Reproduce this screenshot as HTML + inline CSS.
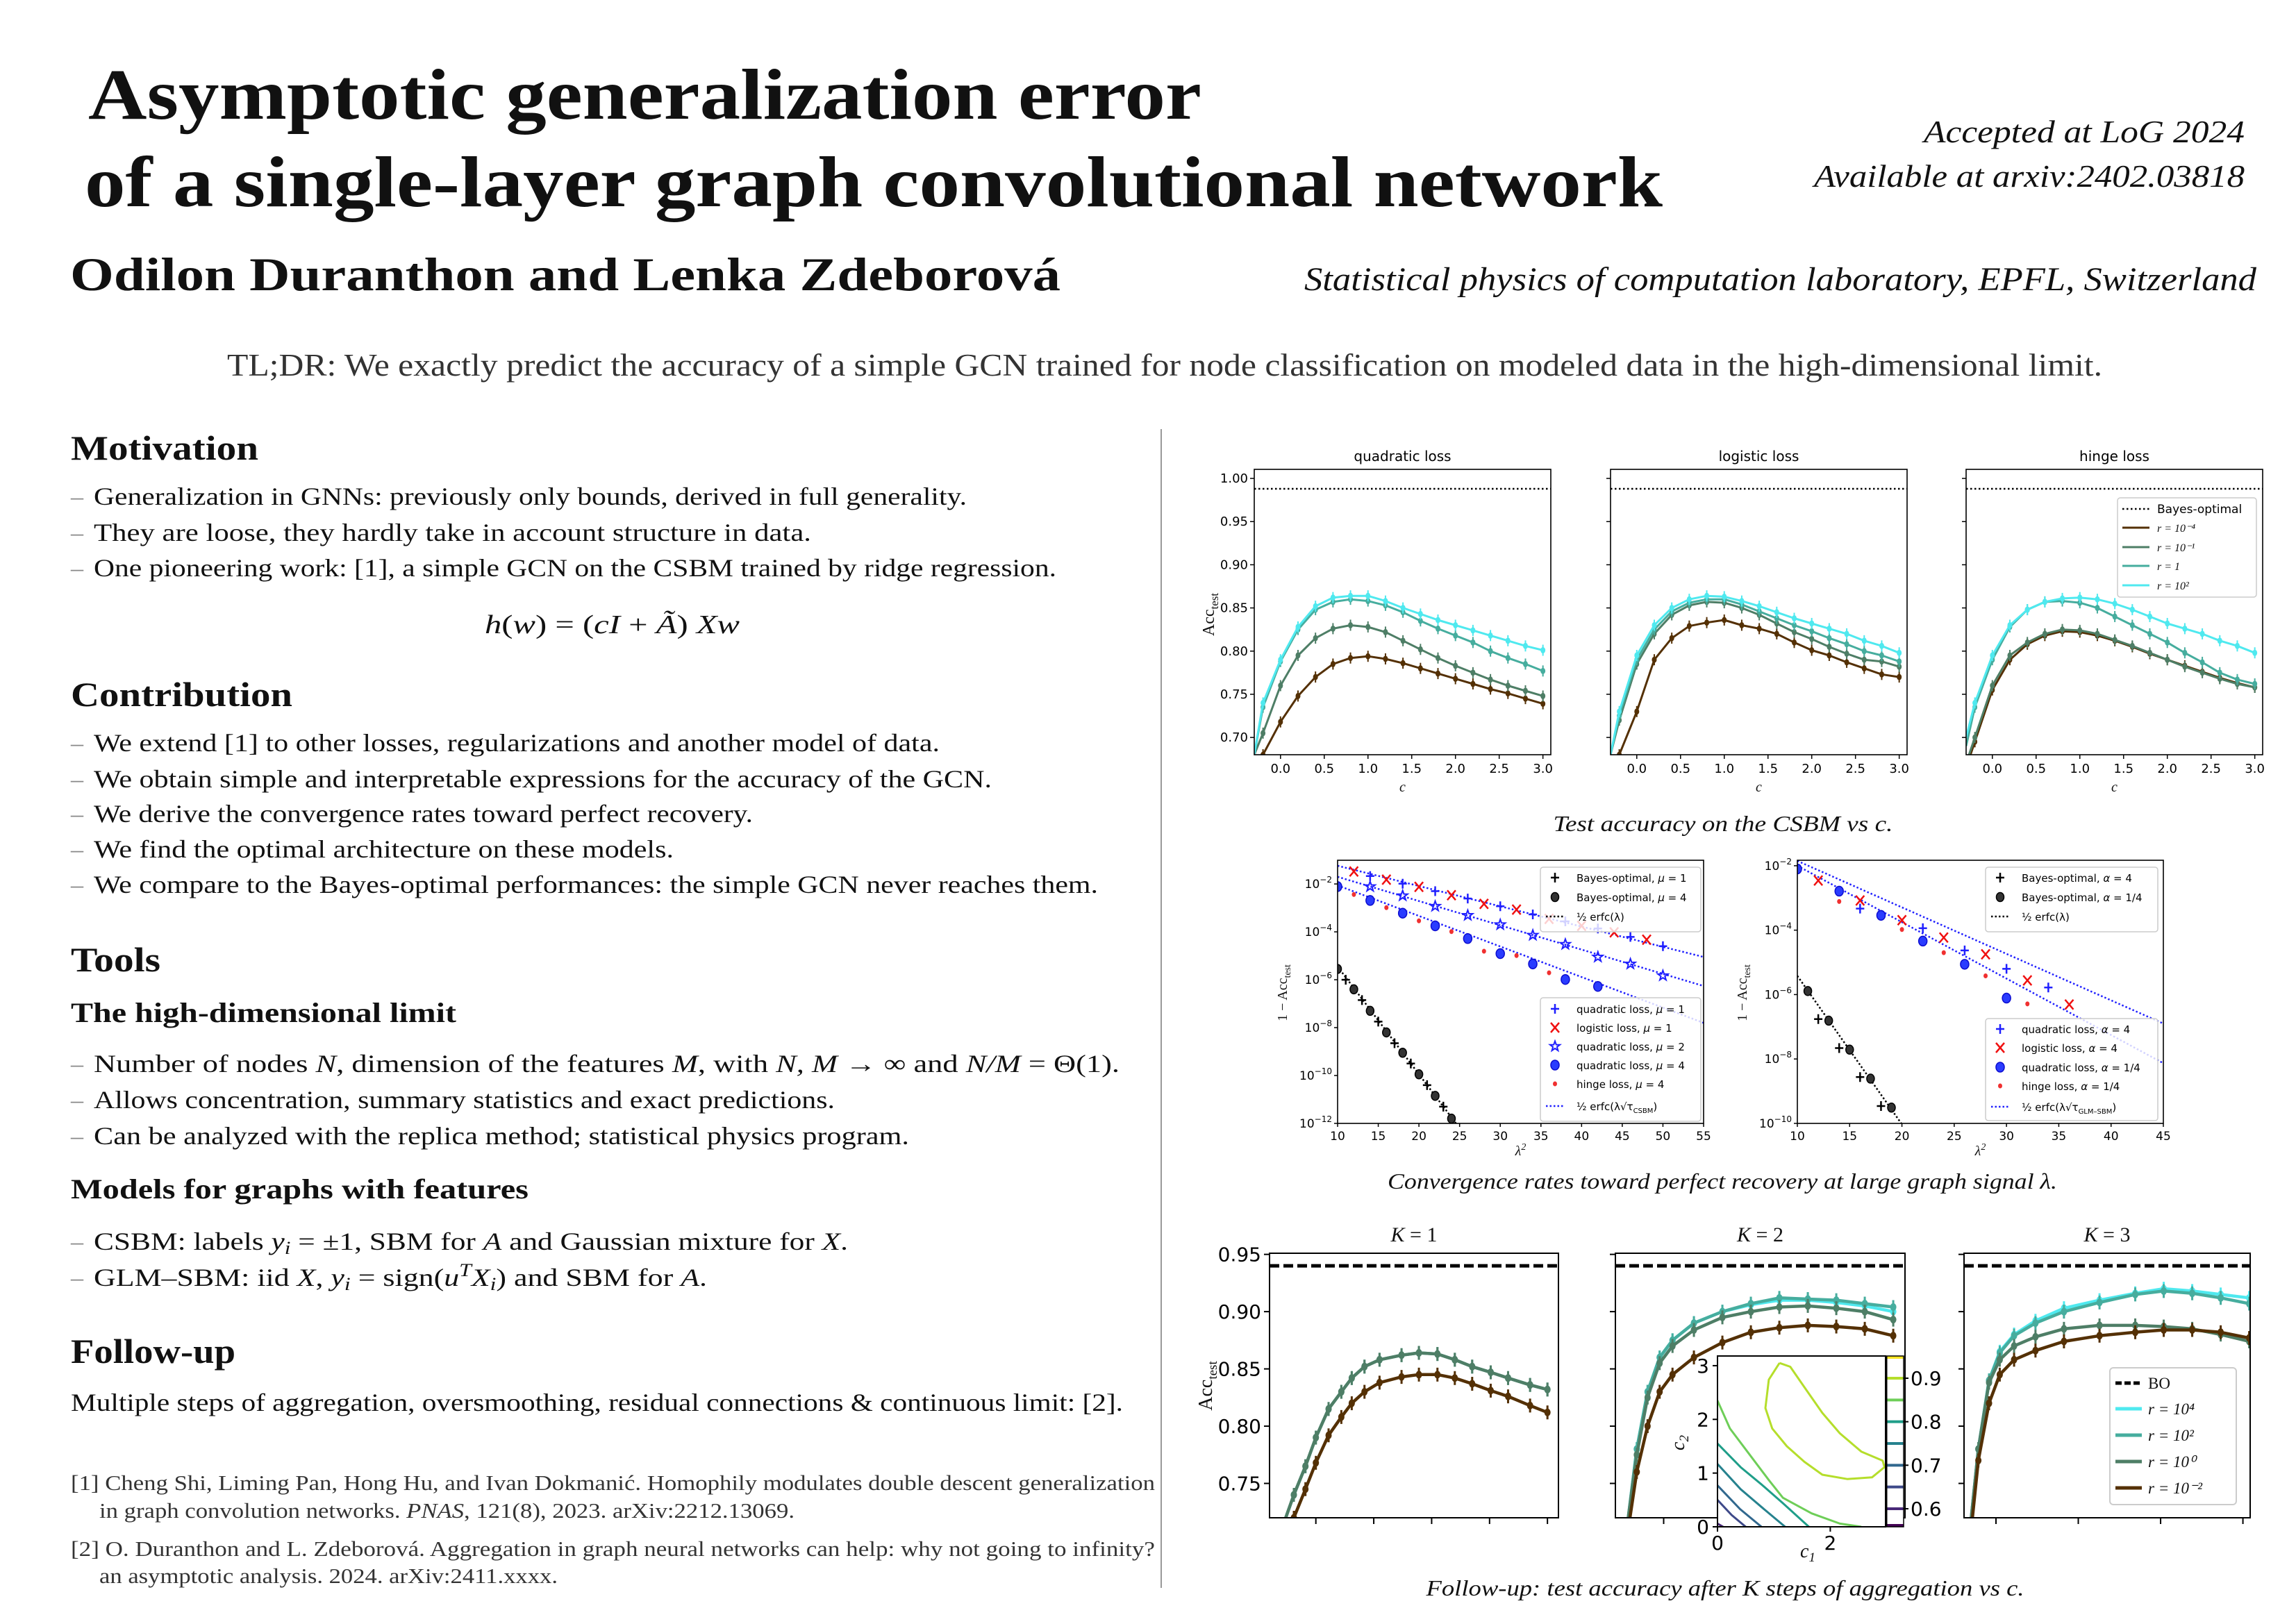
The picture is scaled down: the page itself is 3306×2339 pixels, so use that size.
<!DOCTYPE html>
<html><head><meta charset="utf-8"><title>Asymptotic generalization error of a single-layer GCN</title>
<style>
html,body{margin:0;padding:0;background:#fff;}
svg{display:block;}
.t{font-family:"Liberation Serif",serif;fill:#111;}
.s{font-family:"DejaVu Sans","Liberation Sans",sans-serif;fill:#000;}
</style></head>
<body>
<svg id="poster" xmlns="http://www.w3.org/2000/svg" width="3306" height="2339" viewBox="0 0 3306 2339">
<rect x="0" y="0" width="3306" height="2339" fill="#fff"/>
<g>
<text class="t" x="127" y="171" font-size="104" font-weight="bold" textLength="1603" lengthAdjust="spacingAndGlyphs">Asymptotic generalization error</text>
<text class="t" x="122" y="297" font-size="104" font-weight="bold" textLength="2272" lengthAdjust="spacingAndGlyphs">of a single-layer graph convolutional network</text>
<text class="t" x="2770" y="205" font-size="46" font-style="italic" textLength="462" lengthAdjust="spacingAndGlyphs">Accepted at LoG 2024</text>
<text class="t" x="2612" y="269" font-size="46" font-style="italic" textLength="620" lengthAdjust="spacingAndGlyphs">Available at arxiv:2402.03818</text>
<text class="t" x="101" y="418" font-size="68" font-weight="bold" textLength="1426" lengthAdjust="spacingAndGlyphs">Odilon Duranthon and Lenka Zdeborová</text>
<text class="t" x="1878" y="418" font-size="48" font-style="italic" textLength="1371" lengthAdjust="spacingAndGlyphs">Statistical physics of computation laboratory, EPFL, Switzerland</text>
<text class="t" x="327" y="541" font-size="45" textLength="2700" lengthAdjust="spacingAndGlyphs" style="fill:#333">TL;DR: We exactly predict the accuracy of a simple GCN trained for node classification on modeled data in the high-dimensional limit.</text>
</g>
<line x1="1672" y1="618" x2="1672" y2="2287" stroke="#999" stroke-width="2"/>
<g>
<text class="t" x="102" y="662" font-size="50" font-weight="bold" textLength="270" lengthAdjust="spacingAndGlyphs">Motivation</text>
<text class="t" x="102" y="727" font-size="36" style="fill:#888">–</text>
<text class="t" x="135" y="727" font-size="36" textLength="1257" lengthAdjust="spacingAndGlyphs">Generalization in GNNs: previously only bounds, derived in full generality.</text>
<text class="t" x="102" y="779" font-size="36" style="fill:#888">–</text>
<text class="t" x="135" y="779" font-size="36" textLength="1033" lengthAdjust="spacingAndGlyphs">They are loose, they hardly take in account structure in data.</text>
<text class="t" x="102" y="830" font-size="36" style="fill:#888">–</text>
<text class="t" x="135" y="830" font-size="36" textLength="1386" lengthAdjust="spacingAndGlyphs">One pioneering work: [1], a simple GCN on the CSBM trained by ridge regression.</text>
<text class="t" x="698" y="912" font-size="38" textLength="367" lengthAdjust="spacingAndGlyphs"><tspan font-style="italic">h</tspan>(<tspan font-style="italic">w</tspan>) = (<tspan font-style="italic">cI</tspan> + <tspan font-style="italic">Ã</tspan>) <tspan font-style="italic">Xw</tspan></text>

<text class="t" x="102" y="1017" font-size="50" font-weight="bold" textLength="319" lengthAdjust="spacingAndGlyphs">Contribution</text>
<text class="t" x="102" y="1082" font-size="36" style="fill:#888">–</text>
<text class="t" x="135" y="1082" font-size="36" textLength="1218" lengthAdjust="spacingAndGlyphs">We extend [1] to other losses, regularizations and another model of data.</text>
<text class="t" x="102" y="1134" font-size="36" style="fill:#888">–</text>
<text class="t" x="135" y="1134" font-size="36" textLength="1293" lengthAdjust="spacingAndGlyphs">We obtain simple and interpretable expressions for the accuracy of the GCN.</text>
<text class="t" x="102" y="1184" font-size="36" style="fill:#888">–</text>
<text class="t" x="135" y="1184" font-size="36" textLength="949" lengthAdjust="spacingAndGlyphs">We derive the convergence rates toward perfect recovery.</text>
<text class="t" x="102" y="1235" font-size="36" style="fill:#888">–</text>
<text class="t" x="135" y="1235" font-size="36" textLength="835" lengthAdjust="spacingAndGlyphs">We find the optimal architecture on these models.</text>
<text class="t" x="102" y="1286" font-size="36" style="fill:#888">–</text>
<text class="t" x="135" y="1286" font-size="36" textLength="1446" lengthAdjust="spacingAndGlyphs">We compare to the Bayes-optimal performances: the simple GCN never reaches them.</text>

<text class="t" x="102" y="1399" font-size="50" font-weight="bold" textLength="129" lengthAdjust="spacingAndGlyphs">Tools</text>
<text class="t" x="102" y="1472" font-size="40" font-weight="bold" textLength="555" lengthAdjust="spacingAndGlyphs">The high-dimensional limit</text>
<text class="t" x="102" y="1544" font-size="36" style="fill:#888">–</text>
<text class="t" x="135" y="1544" font-size="36" textLength="1477" lengthAdjust="spacingAndGlyphs">Number of nodes <tspan font-style="italic">N</tspan>, dimension of the features <tspan font-style="italic">M</tspan>, with <tspan font-style="italic">N, M</tspan> → ∞ and <tspan font-style="italic">N/M</tspan> = Θ(1).</text>
<text class="t" x="102" y="1596" font-size="36" style="fill:#888">–</text>
<text class="t" x="135" y="1596" font-size="36" textLength="1067" lengthAdjust="spacingAndGlyphs">Allows concentration, summary statistics and exact predictions.</text>
<text class="t" x="102" y="1648" font-size="36" style="fill:#888">–</text>
<text class="t" x="135" y="1648" font-size="36" textLength="1174" lengthAdjust="spacingAndGlyphs">Can be analyzed with the replica method; statistical physics program.</text>
<text class="t" x="102" y="1726" font-size="40" font-weight="bold" textLength="659" lengthAdjust="spacingAndGlyphs">Models for graphs with features</text>
<text class="t" x="102" y="1800" font-size="36" style="fill:#888">–</text>
<text class="t" x="135" y="1800" font-size="36" textLength="1086" lengthAdjust="spacingAndGlyphs">CSBM: labels <tspan font-style="italic">y<tspan font-size="26" dy="6">i</tspan></tspan><tspan dy="-6"> = ±1, SBM for </tspan><tspan font-style="italic">A</tspan> and Gaussian mixture for <tspan font-style="italic">X</tspan>.</text>
<text class="t" x="102" y="1852" font-size="36" style="fill:#888">–</text>
<text class="t" x="135" y="1852" font-size="36" textLength="883" lengthAdjust="spacingAndGlyphs">GLM–SBM: iid <tspan font-style="italic">X</tspan>, <tspan font-style="italic">y<tspan font-size="26" dy="6">i</tspan></tspan><tspan dy="-6"> = sign(</tspan><tspan font-style="italic">u<tspan font-size="26" dy="-14">T</tspan></tspan><tspan font-style="italic" dy="14">X<tspan font-size="26" dy="6">i</tspan></tspan><tspan dy="-6">) and SBM for </tspan><tspan font-style="italic">A</tspan>.</text>

<text class="t" x="102" y="1963" font-size="50" font-weight="bold" textLength="237" lengthAdjust="spacingAndGlyphs">Follow-up</text>
<text class="t" x="102" y="2032" font-size="36" textLength="1515" lengthAdjust="spacingAndGlyphs">Multiple steps of aggregation, oversmoothing, residual connections &amp; continuous limit: [2].</text>

<text class="t" x="102" y="2146" font-size="31" textLength="1561" lengthAdjust="spacingAndGlyphs" style="fill:#333">[1] Cheng Shi, Liming Pan, Hong Hu, and Ivan Dokmanić. Homophily modulates double descent generalization</text>
<text class="t" x="143" y="2186" font-size="31" textLength="1001" lengthAdjust="spacingAndGlyphs" style="fill:#333">in graph convolution networks. <tspan font-style="italic">PNAS</tspan>, 121(8), 2023. arXiv:2212.13069.</text>
<text class="t" x="102" y="2241" font-size="31" textLength="1561" lengthAdjust="spacingAndGlyphs" style="fill:#333">[2] O. Duranthon and L. Zdeborová. Aggregation in graph neural networks can help: why not going to infinity?</text>
<text class="t" x="143" y="2280" font-size="31" textLength="660" lengthAdjust="spacingAndGlyphs" style="fill:#333">an asymptotic analysis. 2024. arXiv:2411.xxxx.</text>
</g>

<g>
<text class="t" x="2481" y="1197" font-size="32" font-style="italic" text-anchor="middle" textLength="489" lengthAdjust="spacingAndGlyphs">Test accuracy on the CSBM vs c.</text>
<text class="t" x="2480" y="1712" font-size="32" font-style="italic" text-anchor="middle" textLength="964" lengthAdjust="spacingAndGlyphs">Convergence rates toward perfect recovery at large graph signal λ.</text>
<text class="t" x="2484" y="2298" font-size="32" font-style="italic" text-anchor="middle" textLength="861" lengthAdjust="spacingAndGlyphs">Follow-up: test accuracy after K steps of aggregation vs c.</text>
</g>
<g id="charts"></g>
</svg>
<script>
// ---------- DATA: top row (accuracy vs c on CSBM) ----------
const cTop = [-0.3,-0.2,0,0.2,0.4,0.6,0.8,1.0,1.2,1.4,1.6,1.8,2.0,2.2,2.4,2.6,2.8,3.0];
const topTitles = ["quadratic loss","logistic loss","hinge loss"];
const topBayes = [0.988, 0.988, 0.988];
const quadR1e2 = [0.68,0.74,0.79,0.828,0.852,0.862,0.864,0.864,0.858,0.85,0.843,0.836,0.83,0.824,0.818,0.812,0.806,0.801];
const quadR1   = [0.68,0.735,0.788,0.825,0.848,0.857,0.86,0.858,0.853,0.845,0.835,0.826,0.818,0.81,0.80,0.792,0.785,0.777];
const quadR1em1= [0.68,0.705,0.76,0.795,0.815,0.826,0.83,0.828,0.822,0.812,0.802,0.792,0.783,0.775,0.767,0.76,0.754,0.748];
const quadR1em4= [0.665,0.68,0.718,0.748,0.77,0.785,0.792,0.794,0.791,0.786,0.78,0.774,0.768,0.762,0.756,0.751,0.745,0.739];
const logiR1e2 = [0.68,0.73,0.795,0.83,0.85,0.86,0.864,0.863,0.858,0.852,0.845,0.838,0.832,0.826,0.82,0.812,0.806,0.798];
const logiR1   = [0.68,0.725,0.79,0.825,0.846,0.856,0.86,0.86,0.854,0.846,0.838,0.83,0.823,0.815,0.808,0.80,0.795,0.788];
const logiR1em1= [0.68,0.72,0.785,0.82,0.842,0.853,0.857,0.856,0.85,0.842,0.832,0.822,0.814,0.805,0.797,0.79,0.788,0.782];
const logiR1em4= [0.665,0.68,0.73,0.79,0.815,0.829,0.833,0.836,0.83,0.826,0.82,0.81,0.801,0.795,0.787,0.78,0.773,0.77];
const hingR1e2 = [0.70,0.74,0.795,0.83,0.848,0.857,0.861,0.862,0.86,0.855,0.848,0.84,0.832,0.826,0.82,0.812,0.806,0.798];
const hingR1   = [0.69,0.735,0.79,0.828,0.848,0.857,0.858,0.856,0.85,0.84,0.83,0.82,0.81,0.798,0.787,0.775,0.767,0.762];
const hingR1em1= [0.67,0.70,0.76,0.795,0.81,0.82,0.825,0.824,0.82,0.813,0.806,0.798,0.79,0.782,0.775,0.768,0.762,0.758];
const hingR1em4= [0.665,0.695,0.755,0.79,0.808,0.818,0.823,0.822,0.818,0.812,0.805,0.797,0.79,0.783,0.776,0.769,0.763,0.758];
const topYTicks = [0.70,0.75,0.80,0.85,0.90,0.95,1.00];
const topXTicks = [0,0.5,1,1.5,2,2.5,3];
const topLegendLabels = ["Bayes-optimal","r = 10⁻⁴","r = 10⁻¹","r = 1","r = 10²"];

// ---------- DATA: middle row (1 - Acc, log10 values) ----------
const midLX = [10,55], midRX = [10,45];
const midLYTicks = [-2,-4,-6,-8,-10,-12];
const midRYTicks = [-2,-4,-6,-8,-10];
const midLXTicks = [10,15,20,25,30,35,40,45,50,55];
const midRXTicks = [10,15,20,25,30,35,40,45];
const bayesMu4X = [10,12,14,16,18,20,22,24];
const bayesMu4Y = [-5.55,-6.4,-7.3,-8.2,-9.05,-9.95,-10.85,-11.8];
const bayesMu1X = [11,13,15,17,19,21,23];
const bayesMu1Y = [-6.0,-6.85,-7.75,-8.65,-9.5,-10.4,-11.3];
const erfcLX = [10,25];
const erfcLY = [-5.45,-12.2];
const tauLineAX = [10,55], tauLineAY = [-1.24,-5.05];
const tauLineBX = [10,55], tauLineBY = [-1.7,-6.26];
const tauLineCX = [10,55], tauLineCY = [-2.06,-7.8];
const quadMu1X = [14,18,22,26,30,34,38,42,46,50];
const quadMu1Y = [-1.67,-1.99,-2.30,-2.61,-2.93,-3.27,-3.56,-3.86,-4.21,-4.60];
const logiMu1X = [12,16,20,24,28,32,36,40,44,48];
const logiMu1Y = [-1.48,-1.82,-2.12,-2.47,-2.83,-3.07,-3.46,-3.75,-4.02,-4.33];
const quadMu2X = [14,18,22,26,30,34,38,42,46,50];
const quadMu2Y = [-2.11,-2.49,-2.93,-3.31,-3.70,-4.14,-4.52,-5.05,-5.34,-5.83];
const quadMu4X = [10,14,18,22,26,30,34,38,42];
const quadMu4Y = [-2.11,-2.69,-3.22,-3.75,-4.28,-4.91,-5.34,-5.99,-6.28];
const hingMu4X = [12,16,20,24,28,32,36];
const hingMu4Y = [-2.44,-2.99,-3.54,-3.99,-4.81,-4.99,-5.71];
const bayesA14X = [11,13,15,17,19];
const bayesA14Y = [-5.89,-6.81,-7.71,-8.61,-9.51];
const bayesA4X = [12,14,16,18];
const bayesA4Y = [-6.76,-7.66,-8.56,-9.46];
const erfcRX = [10,20], erfcRY = [-5.42,-10.03];
const glmLineAX = [10,45], glmLineAY = [-1.85,-6.9];
const glmLineBX = [10,45], glmLineBY = [-2.0,-8.13];
const quadA4X = [16,22,26,30,34];
const quadA4Y = [-3.33,-3.94,-4.63,-5.2,-5.78];
const logiA4X = [12,16,20,24,28,32,36];
const logiA4Y = [-2.46,-3.08,-3.69,-4.23,-4.75,-5.56,-6.31];
const quadA14X = [10,14,18,22,26,30];
const quadA14Y = [-2.10,-2.79,-3.54,-4.34,-5.06,-6.11];
const hingA14X = [14,20,24,28,32];
const hingA14Y = [-3.11,-3.98,-4.70,-5.42,-6.29];

// ---------- DATA: bottom row (K steps of aggregation) ----------
const botBO = 0.94;
const botYTicks = [0.75,0.80,0.85,0.90,0.95];
const cK1 = [-0.26,-0.19,-0.09,0,0.11,0.22,0.31,0.42,0.55,0.74,0.89,1.05,1.2,1.35,1.51,1.66,1.85,2.0];
const k1High = [0.72,0.74,0.765,0.79,0.815,0.83,0.842,0.852,0.858,0.862,0.864,0.863,0.858,0.852,0.847,0.842,0.836,0.832];
const k1Low  = [0.705,0.72,0.745,0.768,0.792,0.808,0.82,0.83,0.838,0.843,0.845,0.845,0.842,0.837,0.831,0.826,0.818,0.812];
const cK2 = [-0.22,-0.167,-0.1,-0.025,0.055,0.188,0.365,0.542,0.719,0.896,1.073,1.25,1.427];
const k2R4 = [0.72,0.78,0.83,0.86,0.875,0.89,0.90,0.906,0.91,0.91,0.908,0.905,0.90];
const k2R2 = [0.72,0.78,0.83,0.86,0.875,0.89,0.90,0.907,0.912,0.911,0.91,0.907,0.904];
const k2R0 = [0.72,0.775,0.825,0.855,0.87,0.884,0.895,0.90,0.904,0.905,0.903,0.90,0.893];
const k2Rm2= [0.71,0.76,0.80,0.83,0.845,0.86,0.873,0.882,0.886,0.888,0.887,0.885,0.879];
const cK3 = [-0.15,-0.107,-0.042,0.023,0.11,0.24,0.413,0.629,0.846,1.019,1.192,1.365,1.538];
const k3R4 = [0.72,0.78,0.84,0.865,0.88,0.892,0.903,0.91,0.916,0.92,0.918,0.915,0.912];
const k3R2 = [0.72,0.78,0.84,0.864,0.879,0.89,0.90,0.908,0.915,0.918,0.916,0.912,0.907];
const k3R0 = [0.72,0.78,0.838,0.858,0.87,0.878,0.885,0.888,0.888,0.887,0.885,0.88,0.874];
const k3Rm2= [0.71,0.77,0.82,0.845,0.858,0.866,0.874,0.879,0.882,0.884,0.884,0.882,0.877];
const botXTicks1 = [0,0.5,1,1.5,2];
const botXTicks2 = [0];
const botXTicks3 = [0,0.5,1,1.5];
const botLegendLabels = ["BO","r = 10⁴","r = 10²","r = 10⁰","r = 10⁻²"];
// inset contours (c1, c2) per accuracy level
const contourLevels = [0.9,0.85,0.8,0.75,0.7,0.65,0.6];
const cont09C1 = [1.10,0.91,0.85,0.97,1.23,1.54,1.86,2.30,2.74,2.96,2.93,2.55,2.17,1.86,1.54,1.29,1.10];
const cont09C2 = [3.05,2.74,2.21,1.83,1.50,1.21,0.97,0.89,0.92,1.11,1.23,1.40,1.74,2.12,2.60,2.98,3.05];
const cont085C1 = [0,0.22,0.53,0.91,1.16,1.67,2.17,2.55];
const cont085C2 = [2.35,1.83,1.40,0.87,0.54,0.25,0.06,0];
const cont08C1 = [0,0.41,0.79,1.16,1.62];
const cont08C2 = [1.55,1.11,0.78,0.44,0];
const cont075C1 = [0,0.41,0.79,1.2];
const cont075C2 = [1.17,0.70,0.36,0];
const cont07C1 = [0,0.4,0.78];
const cont07C2 = [0.77,0.33,0];
const cont065C1 = [0,0.25,0.5];
const cont065C2 = [0.5,0.22,0];
const cont06C1 = [0,0.1];
const cont06C2 = [0.06,0];
const cbarTicks = [0.6,0.7,0.8,0.9];
const cbarLevels = [0.55,0.6,0.65,0.7,0.75,0.8,0.85,0.9,0.95];

// ---------- helpers ----------
const NS = "http://www.w3.org/2000/svg";
const root = document.getElementById('charts');
function mk(tag, attrs, parent){
  const e = document.createElementNS(NS, tag);
  for (const k in attrs) e.setAttribute(k, attrs[k]);
  (parent || root).appendChild(e);
  return e;
}
function lin(d0,d1,r0,r1){ return v => r0 + (v-d0)/(d1-d0)*(r1-r0); }
let clipId = 0;
function makeClip(x,y,w,h){
  const id = 'clip' + (clipId++);
  const cp = mk('clipPath',{id:id});
  mk('rect',{x:x,y:y,width:w,height:h},cp);
  return id;
}
function pathD(xs, ys, sx, sy){
  return xs.map((v,i)=> (i?'L':'M') + sx(v).toFixed(1) + ' ' + sy(ys[i]).toFixed(1)).join(' ');
}
const COL = {brown:'#543005', dgreen:'#4e7e66', teal:'#46ad9e', cyan:'#4fe9ef'};
const VIR = {0.55:'#440154',0.6:'#482878',0.65:'#3e4989',0.7:'#31688e',0.75:'#26828e',0.8:'#1f9e89',0.85:'#6ece58',0.9:'#b5de2b',0.95:'#fde725'};

// ---------- TOP ROW ----------
const topL = [1806,2319,2831], topW = 427, topT = 676, topB = 1087;
const topSeries = [
  [quadR1em4, quadR1em1, quadR1, quadR1e2],
  [logiR1em4, logiR1em1, logiR1, logiR1e2],
  [hingR1em4, hingR1em1, hingR1, hingR1e2]
];
const topCols = [COL.brown, COL.dgreen, COL.teal, COL.cyan];
const topNames = ['r-1e-4','r-1e-1','r-1','r-1e2'];
for (let p=0;p<3;p++){
  const L = topL[p], R = L+topW;
  const sx = lin(-0.3,3.09,L,R), sy = lin(0.68,1.0105,topB,topT);
  const g = mk('g',{});
  
  
  const cid = makeClip(L,topT,topW,topB-topT);
  const title = mk('text',{x:(L+R)/2,y:664,'text-anchor':'middle','font-size':20,class:'s'},g);
  title.textContent = topTitles[p];
  
  
  const plot = mk('g',{'clip-path':'url(#'+cid+')'},g);
  const bo = mk('line',{x1:L,x2:R,y1:sy(topBayes[p]),y2:sy(topBayes[p]),stroke:'#000','stroke-width':2.5,'stroke-dasharray':'2.5,3.5'},plot);
  
  
  topSeries[p].forEach((ys,si)=>{
    const ln = mk('path',{d:pathD(cTop,ys,sx,sy),fill:'none',stroke:topCols[si],'stroke-width':3,'stroke-linejoin':'round'},plot);
    
    
    for (let i=1;i<cTop.length;i++){
      const x = sx(cTop[i]), y = sy(ys[i]);
      const eb = mk('line',{x1:x,x2:x,y1:y-8,y2:y+8,stroke:topCols[si],'stroke-width':2},plot);
      
      
      const pt = mk('ellipse',{cx:x,cy:y,rx:3.5,ry:4.5,fill:topCols[si]},plot);
      
      
    }
  });
  const fr = mk('rect',{x:L,y:topT,width:topW,height:topB-topT,fill:'none',stroke:'#000','stroke-width':1.6},g);
  
  
  topYTicks.forEach(v=>{
    const y = sy(v);
    const tk = mk('line',{x1:L-6,x2:L,y1:y,y2:y,stroke:'#000','stroke-width':1.5},g);
    
    
    if (p===0){
      const tl = mk('text',{x:L-9,y:y+6,'text-anchor':'end','font-size':18,class:'s'},g);
      tl.textContent = v.toFixed(2);
      
      
    }
  });
  topXTicks.forEach(v=>{
    const x = sx(v);
    const tk = mk('line',{x1:x,x2:x,y1:topB,y2:topB+6,stroke:'#000','stroke-width':1.5},g);
    
    
    const tl = mk('text',{x:x,y:topB+26,'text-anchor':'middle','font-size':18,class:'s'},g);
    tl.textContent = v.toFixed(1);
    
    
  });
  const xl = mk('text',{x:(L+R)/2,y:1140,'text-anchor':'middle','font-size':20,'font-style':'italic',class:'t'},g);
  xl.textContent = 'c';
  
  
}
{
  const yl = mk('text',{x:0,y:0,transform:'translate(1748,885) rotate(-90)','text-anchor':'middle','font-size':24,class:'t'});
  yl.innerHTML = 'Acc<tspan font-size="17" dy="6">test</tspan>';
  
  
  const lg = mk('g',{});
  
  
  mk('rect',{x:3049,y:717,width:200,height:143,rx:4,fill:'#fff','fill-opacity':0.85,stroke:'#ccc','stroke-width':1.5},lg);
  const rows = [733,760,788,815,843];
  const cols = ['#000',COL.brown,COL.dgreen,COL.teal,COL.cyan];
  rows.forEach((y,i)=>{
    const ln = mk('line',{x1:3056,x2:3095,y1:y,y2:y,stroke:cols[i],'stroke-width':i?3:2.5,'stroke-dasharray':i?'none':'2.5,3.5'},lg);
    
    
    const tx = mk('text',{x:3106,y:y+6,'font-size':i?16:17,class:i?'t':'s','font-style':i?'italic':'normal'},lg);
    tx.textContent = topLegendLabels[i];
    
    
  });
}

// ---------- MIDDLE ROW ----------
function marker(kind, x, y, g){
  let e;
  if (kind==='plusB' || kind==='plusK'){
    const c = kind==='plusB' ? '#1f1fff' : '#000';
    e = mk('path',{d:`M${x-6} ${y}H${x+6}M${x} ${y-7}V${y+7}`,stroke:c,'stroke-width':2.5},g);
  } else if (kind==='xR'){
    e = mk('path',{d:`M${x-6} ${y-7}L${x+6} ${y+7}M${x+6} ${y-7}L${x-6} ${y+7}`,stroke:'#f01010','stroke-width':2.5},g);
  } else if (kind==='star'){
    let d='';
    for (let k=0;k<10;k++){ const a=-Math.PI/2+k*Math.PI/5, r=k%2?3:7.5; d+=(k?'L':'M')+(x+r*Math.cos(a)).toFixed(1)+' '+(y+r*Math.sin(a)).toFixed(1);}
    e = mk('path',{d:d+'Z',fill:'none',stroke:'#1f1fff','stroke-width':2},g);
  } else if (kind==='circB'){
    e = mk('ellipse',{cx:x,cy:y,rx:6,ry:7,fill:'#2a3cff',stroke:'#0c0cd0','stroke-width':1.5},g);
  } else if (kind==='circK'){
    e = mk('ellipse',{cx:x,cy:y,rx:5.5,ry:6.5,fill:'#333',stroke:'#000','stroke-width':1.5},g);
  } else if (kind==='dotR'){
    e = mk('ellipse',{cx:x,cy:y,rx:3,ry:3.5,fill:'#f03030'},g);
  }
  return e;
}
function midPanel(cfg){
  const {L,R,T,B,xd,yd,xticks,yticks,name} = cfg;
  const sx = lin(xd[0],xd[1],L,R), sy = lin(yd[0],yd[1],B,T);
  const g = mk('g',{});
  
  
  const cid = makeClip(L,T,R-L,B-T);
  const plot = mk('g',{'clip-path':'url(#'+cid+')'},g);
  cfg.lines.forEach(l=>{
    const ln = mk('path',{d:pathD(l.x,l.y,sx,sy),fill:'none',stroke:l.c,'stroke-width':2.5,'stroke-dasharray':'2.5,3'},plot);
    
    
  });
  cfg.pts.forEach(s=>{
    s.x.forEach((v,i)=>{
      const m = marker(s.k, sx(v), sy(s.y[i]), plot);
      
      
    });
  });
  const fr = mk('rect',{x:L,y:T,width:R-L,height:B-T,fill:'none',stroke:'#000','stroke-width':1.6},g);
  
  
  yticks.forEach(v=>{
    const y = sy(v);
    const tk = mk('line',{x1:L-5,x2:L,y1:y,y2:y,stroke:'#000','stroke-width':1.5},g);
    
    
    const tl = mk('text',{x:L-8,y:y+6,'text-anchor':'end','font-size':17,class:'s'},g);
    tl.innerHTML = '10<tspan font-size="12" dy="-8">−' + Math.abs(v) + '</tspan>';
    
    
  });
  xticks.forEach(v=>{
    const x = sx(v);
    const tk = mk('line',{x1:x,x2:x,y1:B,y2:B+5,stroke:'#000','stroke-width':1.5},g);
    
    
    const tl = mk('text',{x:x,y:B+24,'text-anchor':'middle','font-size':17,class:'s'},g);
    tl.textContent = v;
    
    
  });
  const xl = mk('text',{x:(L+R)/2,y:1664,'text-anchor':'middle','font-size':20,class:'t','font-style':'italic'},g);
  xl.innerHTML = 'λ<tspan font-size="14" dy="-8">2</tspan>';
  
  
  const yl = mk('text',{x:0,y:0,transform:`translate(${cfg.ylx},1430) rotate(-90)`,'text-anchor':'middle','font-size':20,class:'t'},g);
  yl.innerHTML = '1 − Acc<tspan font-size="14" dy="5">test</tspan>';
  
  
  cfg.legends.forEach(lgd=>{
    const lg = mk('g',{},g);
    
    
    mk('rect',{x:lgd.x,y:lgd.y,width:lgd.w,height:lgd.h,rx:4,fill:'#fff','fill-opacity':0.8,stroke:'#ccc','stroke-width':1.5},lg);
    lgd.rows.forEach(r=>{
      if (r.k==='lineK' || r.k==='lineB'){
        const ln = mk('line',{x1:lgd.x+8,x2:lgd.x+34,y1:r.y,y2:r.y,stroke:r.k==='lineK'?'#000':'#1f1fff','stroke-width':2.5,'stroke-dasharray':'2.5,3'},lg);
        
        
      } else {
        const m = marker(r.k, lgd.x+21, r.y, lg);
        
        
      }
      const tx = mk('text',{x:lgd.x+52,y:r.y+6,'font-size':15,class:'s'},lg);
      tx.innerHTML = r.t;
      
      
    });
  });
}
midPanel({name:'convergence-panel-csbm',L:1926,R:2453,T:1239,B:1618,xd:midLX,yd:[-12,-1.01],xticks:midLXTicks,yticks:midLYTicks,ylx:1853,
  lines:[{x:tauLineAX,y:tauLineAY,c:'#1f1fff',n:'theory-line-mu1'},{x:tauLineBX,y:tauLineBY,c:'#1f1fff',n:'theory-line-mu2'},{x:tauLineCX,y:tauLineCY,c:'#1f1fff',n:'theory-line-mu4'},{x:erfcLX,y:erfcLY,c:'#000',n:'erfc-line'}],
  pts:[{x:bayesMu4X,y:bayesMu4Y,k:'circK',n:'bayes-mu4-point'},{x:bayesMu1X,y:bayesMu1Y,k:'plusK',n:'bayes-mu1-point'},
       {x:quadMu1X,y:quadMu1Y,k:'plusB',n:'quadratic-mu1-point'},{x:logiMu1X,y:logiMu1Y,k:'xR',n:'logistic-mu1-point'},
       {x:quadMu2X,y:quadMu2Y,k:'star',n:'quadratic-mu2-point'},{x:quadMu4X,y:quadMu4Y,k:'circB',n:'quadratic-mu4-point'},
       {x:hingMu4X,y:hingMu4Y,k:'dotR',n:'hinge-mu4-point'}],
  legends:[{x:2218,y:1249,w:231,h:93,rows:[{k:'plusK',y:1264,t:'Bayes-optimal, <tspan font-style="italic">μ</tspan> = 1'},{k:'circK',y:1292,t:'Bayes-optimal, <tspan font-style="italic">μ</tspan> = 4'},{k:'lineK',y:1320,t:'½ erfc(λ)'}]},
           {x:2218,y:1437,w:231,h:178,rows:[{k:'plusB',y:1453,t:'quadratic loss, <tspan font-style="italic">μ</tspan> = 1'},{k:'xR',y:1480,t:'logistic loss, <tspan font-style="italic">μ</tspan> = 1'},{k:'star',y:1507,t:'quadratic loss, <tspan font-style="italic">μ</tspan> = 2'},{k:'circB',y:1534,t:'quadratic loss, <tspan font-style="italic">μ</tspan> = 4'},{k:'dotR',y:1561,t:'hinge loss, <tspan font-style="italic">μ</tspan> = 4'},{k:'lineB',y:1593,t:'½ erfc(λ√τ<tspan font-size="10" dy="4">CSBM</tspan><tspan dy="-4">)</tspan>'}]}]
});
midPanel({name:'convergence-panel-glm-sbm',L:2588,R:3115,T:1239,B:1618,xd:midRX,yd:[-10,-1.83],xticks:midRXTicks,yticks:midRYTicks,ylx:2515,
  lines:[{x:glmLineAX,y:glmLineAY,c:'#1f1fff',n:'theory-line-alpha4'},{x:glmLineBX,y:glmLineBY,c:'#1f1fff',n:'theory-line-alpha14'},{x:erfcRX,y:erfcRY,c:'#000',n:'erfc-line'}],
  pts:[{x:bayesA14X,y:bayesA14Y,k:'circK',n:'bayes-alpha14-point'},{x:bayesA4X,y:bayesA4Y,k:'plusK',n:'bayes-alpha4-point'},
       {x:quadA4X,y:quadA4Y,k:'plusB',n:'quadratic-alpha4-point'},{x:logiA4X,y:logiA4Y,k:'xR',n:'logistic-alpha4-point'},
       {x:quadA14X,y:quadA14Y,k:'circB',n:'quadratic-alpha14-point'},{x:hingA14X,y:hingA14Y,k:'dotR',n:'hinge-alpha14-point'}],
  legends:[{x:2859,y:1249,w:248,h:93,rows:[{k:'plusK',y:1264,t:'Bayes-optimal, <tspan font-style="italic">α</tspan> = 4'},{k:'circK',y:1292,t:'Bayes-optimal, <tspan font-style="italic">α</tspan> = 1/4'},{k:'lineK',y:1320,t:'½ erfc(λ)'}]},
           {x:2859,y:1467,w:248,h:147,rows:[{k:'plusB',y:1482,t:'quadratic loss, <tspan font-style="italic">α</tspan> = 4'},{k:'xR',y:1509,t:'logistic loss, <tspan font-style="italic">α</tspan> = 4'},{k:'circB',y:1537,t:'quadratic loss, <tspan font-style="italic">α</tspan> = 1/4'},{k:'dotR',y:1564,t:'hinge loss, <tspan font-style="italic">α</tspan> = 1/4'},{k:'lineB',y:1594,t:'½ erfc(λ√τ<tspan font-size="10" dy="4">GLM–SBM</tspan><tspan dy="-4">)</tspan>'}]}]
});

// ---------- BOTTOM ROW ----------
const botT = 1805, botB = 2186;
const botPanels = [
  {L:1828,R:2244,xd:[-0.4,2.095],ticks:botXTicks1,c:cK1,series:[[k1High,COL.teal],[k1High,COL.dgreen],[k1Low,COL.brown]],title:'1'},
  {L:2326,R:2743,xd:[-0.3,1.5],ticks:botXTicks2,c:cK2,series:[[k2R4,COL.cyan],[k2R2,COL.teal],[k2R0,COL.dgreen],[k2Rm2,COL.brown]],title:'2'},
  {L:2828,R:3240,xd:[-0.194,1.544],ticks:botXTicks3,c:cK3,series:[[k3R4,COL.cyan],[k3R2,COL.teal],[k3R0,COL.dgreen],[k3Rm2,COL.brown]],title:'3'}
];
botPanels.forEach((P,p)=>{
  const sx = lin(P.xd[0],P.xd[1],P.L,P.R), sy = lin(0.72,0.951,botB,botT);
  const g = mk('g',{});
  
  
  const cid = makeClip(P.L,botT,P.R-P.L,botB-botT);
  const plot = mk('g',{'clip-path':'url(#'+cid+')'},g);
  const bo = mk('line',{x1:P.L,x2:P.R,y1:sy(botBO),y2:sy(botBO),stroke:'#000','stroke-width':5,'stroke-dasharray':'14,6'},plot);
  
  
  P.series.forEach(([ys,col])=>{
    const ln = mk('path',{d:pathD(P.c,ys,sx,sy),fill:'none',stroke:col,'stroke-width':4.5,'stroke-linejoin':'round'},plot);
    
    
    for (let i=1;i<P.c.length;i++){
      const x = sx(P.c[i]), y = sy(ys[i]);
      const eb = mk('line',{x1:x,x2:x,y1:y-10,y2:y+10,stroke:col,'stroke-width':3},plot);
      
      
      const pt = mk('ellipse',{cx:x,cy:y,rx:4.5,ry:5.5,fill:col},plot);
      
      
    }
  });
  const fr = mk('rect',{x:P.L,y:botT,width:P.R-P.L,height:botB-botT,fill:'none',stroke:'#000','stroke-width':2},g);
  
  
  botYTicks.forEach(v=>{
    const y = sy(v);
    const tk = mk('line',{x1:P.L-8,x2:P.L,y1:y,y2:y,stroke:'#000','stroke-width':2},g);
    
    
    if (p===0){
      const tl = mk('text',{x:P.L-12,y:y+10,'text-anchor':'end','font-size':28,class:'s'},g);
      tl.textContent = v.toFixed(2);
      
      
    }
  });
  P.ticks.forEach(v=>{
    const x = sx(v);
    const tk = mk('line',{x1:x,x2:x,y1:botB,y2:botB+9,stroke:'#000','stroke-width':2},g);
    
    
  });
  const tt = mk('text',{x:(P.L+P.R)/2,y:1788,'text-anchor':'middle','font-size':30,class:'t'},g);
  tt.innerHTML = '<tspan font-style="italic">K</tspan> = ' + P.title;
  
  
});
{
  const yl = mk('text',{x:0,y:0,transform:'translate(1745,1996) rotate(-90)','text-anchor':'middle','font-size':28,class:'t'});
  yl.innerHTML = 'Acc<tspan font-size="19" dy="7">test</tspan>';
  
  
  const lg = mk('g',{});
  
  
  mk('rect',{x:3038,y:1970,width:182,height:197,rx:5,fill:'#fff','fill-opacity':0.85,stroke:'#ccc','stroke-width':2},lg);
  const rows = [1992,2029,2067,2105,2143];
  const cols = ['#000',COL.cyan,COL.teal,COL.dgreen,COL.brown];
  rows.forEach((y,i)=>{
    const ln = mk('line',{x1:3046,x2:3084,y1:y,y2:y,stroke:cols[i],'stroke-width':5,'stroke-dasharray':i?'none':'9,4'},lg);
    
    
    const tx = mk('text',{x:3093,y:y+8,'font-size':23,class:'t','font-style':i?'italic':'normal'},lg);
    tx.textContent = botLegendLabels[i];
    
    
  });
}
// inset
{
  const L=2473,R=2715,T=1953,B=2199;
  const sx = lin(0,2.98,L,R), sy = lin(0,3.18,B,T);
  const g = mk('g',{});
  
  
  mk('rect',{x:L,y:T,width:R-L,height:B-T,fill:'#fff'},g);
  const cid = makeClip(L,T,R-L,B-T);
  const plot = mk('g',{'clip-path':'url(#'+cid+')'},g);
  const conts = [[cont09C1,cont09C2],[cont085C1,cont085C2],[cont08C1,cont08C2],[cont075C1,cont075C2],[cont07C1,cont07C2],[cont065C1,cont065C2],[cont06C1,cont06C2]];
  conts.forEach((cc,i)=>{
    const ln = mk('path',{d:pathD(cc[0],cc[1],sx,sy),fill:'none',stroke:VIR[contourLevels[i]],'stroke-width':3,'stroke-linejoin':'round'},plot);
    
    
  });
  const fr = mk('rect',{x:L,y:T,width:R-L,height:B-T,fill:'none',stroke:'#000','stroke-width':2},g);
  
  
  [0,1,2,3].forEach(v=>{
    const y = sy(v);
    mk('line',{x1:L-7,x2:L,y1:y,y2:y,stroke:'#000','stroke-width':2},g);
    const tl = mk('text',{x:L-12,y:y+10,'text-anchor':'end','font-size':28,class:'s'},g);
    tl.textContent = v;
    
    
  });
  [0,2].forEach(v=>{
    const x = sx(v);
    mk('line',{x1:x,x2:x,y1:B,y2:B+7,stroke:'#000','stroke-width':2},g);
    const tl = mk('text',{x:x,y:B+33,'text-anchor':'middle','font-size':28,class:'s'},g);
    tl.textContent = v;
    
    
  });
  const xl = mk('text',{x:2603,y:2243,'text-anchor':'middle','font-size':28,'font-style':'italic',class:'t'},g);
  xl.innerHTML = 'c<tspan font-size="19" dy="6">1</tspan>';
  
  
  const yl = mk('text',{x:0,y:0,transform:'translate(2425,2078) rotate(-90)','text-anchor':'middle','font-size':28,'font-style':'italic',class:'t'},g);
  yl.innerHTML = 'c<tspan font-size="19" dy="6">2</tspan>';
  
  
  const cbL = 2716, cbR = 2741;
  const cy = lin(0.6,0.9,2173,1985);
  const cb = mk('g',{},g);
  
  
  mk('rect',{x:cbL,y:T,width:cbR-cbL,height:B-T,fill:'#fff'},cb);
  cbarLevels.forEach(v=>{
    const y = Math.min(B-2, Math.max(T+2, cy(v)));
    const ln = mk('line',{x1:cbL,x2:cbR,y1:y,y2:y,stroke:VIR[v],'stroke-width':4},cb);
    
    
  });
  mk('rect',{x:cbL,y:T,width:cbR-cbL,height:B-T,fill:'none',stroke:'#000','stroke-width':1.5},cb);
  mk('line',{x1:cbL,x2:cbL,y1:T,y2:B,stroke:'#000','stroke-width':3},cb);
  cbarTicks.forEach(v=>{
    const y = cy(v);
    mk('line',{x1:cbR,x2:cbR+7,y1:y,y2:y,stroke:'#000','stroke-width':2},cb);
    const tl = mk('text',{x:cbR+10,y:y+10,'font-size':28,class:'s'},cb);
    tl.textContent = v.toFixed(1);
    
    
  });
}
</script>
</body></html>
